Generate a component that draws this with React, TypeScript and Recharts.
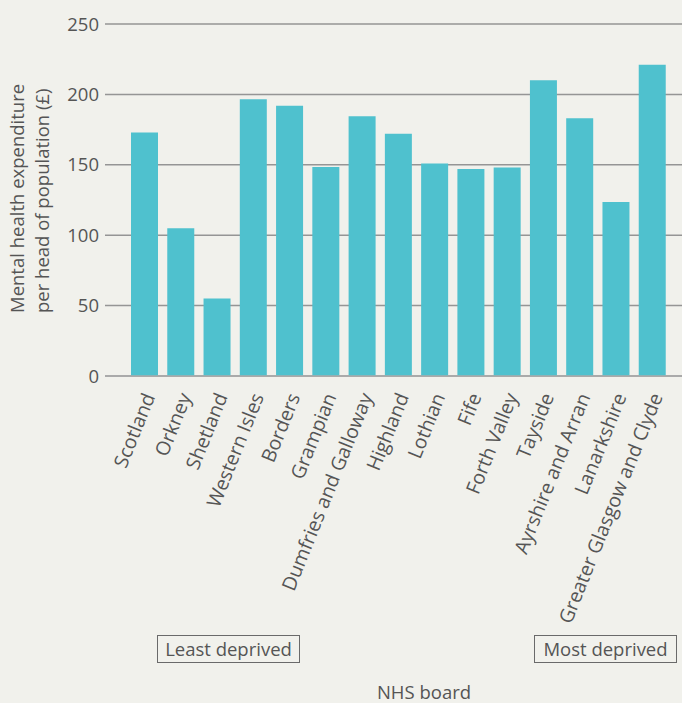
import React from "react";
import { BarChart, Bar, XAxis, YAxis, CartesianGrid } from "recharts";

const boards = [
  "Scotland",
  "Orkney",
  "Shetland",
  "Western Isles",
  "Borders",
  "Grampian",
  "Dumfries and Galloway",
  "Highland",
  "Lothian",
  "Fife",
  "Forth Valley",
  "Tayside",
  "Ayrshire and Arran",
  "Lanarkshire",
  "Greater Glasgow and Clyde",
];
const spend = [173, 105, 55, 196.5, 192, 148.5, 184.5, 172, 151, 147, 148, 210, 183, 123.5, 221];
const yTicks = [0, 50, 100, 150, 200, 250];
const yLabelLines = ["Mental health expenditure", "per head of population (£)"];
const xLabel = "NHS board";
const leastLabel = "Least deprived";
const mostLabel = "Most deprived";

const data = boards.map((b, i) => ({ board: b, value: spend[i] }));

const FONT = "'Open Sans', 'Liberation Sans', Arial, sans-serif";
const TEXT = "#555555";
const BG = "#f1f1ec";
const FS = 18.5;

const XTick = (props: any) => {
  const { x, y, payload } = props;
  return (
    <g transform={`translate(${x + 5},${y + 10})`}>
      <text
        transform="rotate(-68)"
        textAnchor="end"
        dy="0.35em"
        fill={TEXT}
        fontSize={19.5}
        fontFamily={FONT}
      >
        {payload.value}
      </text>
    </g>
  );
};

const YLabel = () => (
  <text
    transform="translate(24,313) rotate(-90)"
    textAnchor="start"
    fill={TEXT}
    fontSize={FS}
    fontFamily={FONT}
  >
    <tspan x={0} y={0}>{yLabelLines[0]}</tspan>
    <tspan x={0} y={25}>{yLabelLines[1]}</tspan>
  </text>
);

const XLabel = () => (
  <text x={424} y={699} textAnchor="middle" fill={TEXT} fontSize={FS} fontFamily={FONT}>
    {xLabel}
  </text>
);

const boxStyle: React.CSSProperties = {
  position: "absolute",
  top: 635,
  width: 141,
  height: 26,
  border: "1.5px solid #6a6a6a",
  color: TEXT,
  fontSize: FS,
  lineHeight: "26px",
  textAlign: "center",
  whiteSpace: "nowrap",
};

export default function App() {
  return (
    <div
      style={{
        position: "absolute",
        left: 0,
        top: 0,
        width: 682,
        height: 703,
        background: BG,
        fontFamily: FONT,
      }}
    >
      <BarChart
        width={682}
        height={703}
        data={data}
        margin={{ top: 24, right: 0, bottom: 27, left: 0 }}
      >
        <CartesianGrid vertical={false} stroke="#959595" strokeWidth={1.5} />
        <XAxis
          dataKey="board"
          interval={0}
          height={300}
          tick={<XTick />}
          tickLine={false}
          axisLine={{ stroke: "#aaaaaa", strokeWidth: 1.5 }}
          padding={{ left: 21, right: 12 }}
          label={{ content: () => <XLabel /> }}
        />
        <YAxis
          width={105}
          domain={[0, 250]}
          ticks={yTicks}
          tickLine={false}
          axisLine={false}
          tickMargin={0}
          tick={{ fill: TEXT, fontSize: FS, fontFamily: FONT }}
          label={{ content: () => <YLabel /> }}
        />
        <Bar dataKey="value" fill="#4fc1ce" barSize={27} isAnimationActive={false} />
      </BarChart>
      <div style={{ ...boxStyle, left: 157 }}>{leastLabel}</div>
      <div style={{ ...boxStyle, left: 534 }}>{mostLabel}</div>
    </div>
  );
}
